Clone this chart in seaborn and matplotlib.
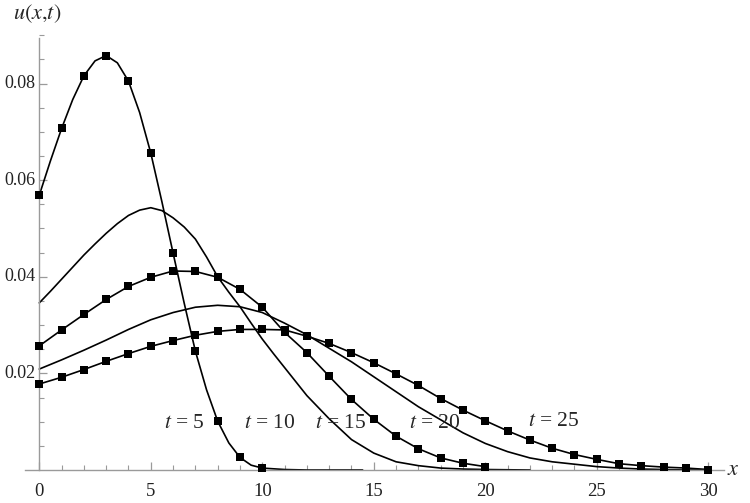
import matplotlib
matplotlib.use("Agg")
import matplotlib.pyplot as plt
import numpy as np
import pandas as pd
import seaborn as sns

# numerical solution (square markers), read at integer x
x_t5 = list(range(0, 11))
u_t5 = [0.0569, 0.0707, 0.0816, 0.0858, 0.0805, 0.0656, 0.0449, 0.0246, 0.0101, 0.0026, 0.0004]

x_t15 = list(range(0, 21))
u_t15 = [0.0257, 0.0290, 0.0322, 0.0353, 0.0380, 0.0399, 0.0412, 0.0411, 0.0399, 0.0374,
         0.0337, 0.0285, 0.0243, 0.0194, 0.0146, 0.0105, 0.0070, 0.0044, 0.0025, 0.0014, 0.0007]

x_t25 = list(range(0, 31))
u_t25 = [0.0178, 0.0192, 0.0208, 0.0225, 0.0241, 0.0256, 0.0268, 0.0279, 0.0287, 0.0291,
         0.0291, 0.0290, 0.0277, 0.0262, 0.0243, 0.0222, 0.0199, 0.0175, 0.0148, 0.0124,
         0.0102, 0.0081, 0.0062, 0.0045, 0.0032, 0.0022, 0.0013, 0.0009, 0.0006, 0.0004, 0.0001]

# exact solution curves (solid lines)
xl_t5 = [0, 0.5, 1, 1.5, 2, 2.5, 3, 3.5, 4, 4.5, 5, 5.5, 6, 6.5, 7, 7.5, 8, 8.5, 9, 9.5, 10, 11, 12, 14.5]
ul_t5 = [0.0569, 0.0640, 0.0707, 0.0767, 0.0816, 0.0847, 0.0858, 0.0843, 0.0805, 0.0740, 0.0656,
         0.0555, 0.0449, 0.0345, 0.0246, 0.0166, 0.0101, 0.0056, 0.0026, 0.0010, 0.0004, 0.0001, 0.0, 0.0]

xl_t10 = [0, 0.5, 1, 1.5, 2, 2.5, 3, 3.5, 4, 4.5, 5, 5.5, 6, 6.5, 7, 7.5, 8, 8.5, 9, 9.5,
          10, 10.5, 11, 12, 13, 14, 15, 16, 17, 18, 19, 20, 22]
ul_t10 = [0.0346, 0.0370, 0.0395, 0.0420, 0.0445, 0.0468, 0.0490, 0.0510, 0.0527, 0.0538,
          0.0543, 0.0537, 0.0522, 0.0503, 0.0478, 0.0441, 0.0400, 0.0368, 0.0338, 0.0304,
          0.0271, 0.0241, 0.0212, 0.0154, 0.0106, 0.0063, 0.0035, 0.0017, 0.0009, 0.0004,
          0.0002, 0.0001, 0.0]

xl_t15 = x_t15
ul_t15 = u_t15

xl_t20 = list(range(0, 31))
ul_t20 = [0.0209, 0.0228, 0.0248, 0.0269, 0.0291, 0.0311, 0.0326, 0.0337, 0.0341, 0.0338,
          0.0326, 0.0304, 0.0280, 0.0252, 0.0224, 0.0193, 0.0162, 0.0131, 0.0104, 0.0077,
          0.0055, 0.0038, 0.0025, 0.0017, 0.0012, 0.0007, 0.0004, 0.0002, 0.0001, 0.0, 0.0]

xl_t25 = x_t25
ul_t25 = u_t25

label_text = ["5", "10", "15", "20", "25"]
label_x = [6.49, 10.33, 13.53, 17.74, 23.05]
label_y = [0.0097, 0.0097, 0.0097, 0.0097, 0.0100]

lines = pd.concat([
    pd.DataFrame({"x": xl_t5, "u": ul_t5, "t": "5"}),
    pd.DataFrame({"x": xl_t10, "u": ul_t10, "t": "10"}),
    pd.DataFrame({"x": xl_t15, "u": ul_t15, "t": "15"}),
    pd.DataFrame({"x": xl_t20, "u": ul_t20, "t": "20"}),
    pd.DataFrame({"x": xl_t25, "u": ul_t25, "t": "25"}),
])
points = pd.concat([
    pd.DataFrame({"x": x_t5, "u": u_t5, "t": "5"}),
    pd.DataFrame({"x": x_t15, "u": u_t15, "t": "15"}),
    pd.DataFrame({"x": x_t25, "u": u_t25, "t": "25"}),
])

sns.set_theme(style="white")
plt.rcParams["font.family"] = ["Liberation Serif", "DejaVu Serif"]
plt.rcParams["mathtext.fontset"] = "stix"

fig = plt.figure(figsize=(7.5, 5.03), dpi=100)
ax = fig.add_axes([0, 0, 1, 1])

sns.lineplot(data=lines, x="x", y="u", units="t", estimator=None, sort=False,
             color="black", linewidth=1.2, ax=ax, legend=False)
sns.scatterplot(data=points, x="x", y="u", marker="s", color="black", s=38,
                edgecolor="black", linewidth=0, ax=ax, legend=False, zorder=3)

for txt, lx, ly in zip(label_text, label_x, label_y):
    ax.text(lx, ly, "$t$ = " + txt, fontsize=15.5, ha="center", va="center")

ax.set_xlim(-1.762, 31.87)
ax.set_ylim(-0.00683, 0.0973)

axis_col = "#9a9a9a"
for side in ["top", "right"]:
    ax.spines[side].set_visible(False)
ax.spines["left"].set_position(("data", 0))
ax.spines["bottom"].set_position(("data", 0))
ax.spines["left"].set_bounds(0, 0.0895)
ax.spines["bottom"].set_bounds(-0.64, 30.7)
ax.spines["left"].set_color(axis_col)
ax.spines["bottom"].set_color(axis_col)
ax.spines["left"].set_linewidth(1.0)
ax.spines["bottom"].set_linewidth(1.0)

ax.set_xticks([0, 5, 10, 15, 20, 25, 30])
ax.set_xticklabels(["0", "5", "10", "15", "20", "25", "30"])
ax.set_xticks(np.arange(0, 31, 1), minor=True)
ax.set_yticks([0.02, 0.04, 0.06, 0.08])
ax.set_yticklabels(["0.02", "0.04", "0.06", "0.08"])
ax.set_yticks(np.arange(0.005, 0.0901, 0.005), minor=True)

ax.tick_params(axis="x", which="major", direction="in", length=6, width=0.9,
               color=axis_col, labelsize=13.5, pad=9, bottom=True)
ax.tick_params(axis="x", which="minor", direction="in", length=3.5, width=0.8,
               color=axis_col, bottom=True)
ax.tick_params(axis="y", which="major", direction="in", length=6, width=0.9,
               color=axis_col, labelsize=13, pad=3, left=True)
ax.tick_params(axis="y", which="minor", direction="in", length=3.5, width=0.8,
               color=axis_col, left=True)
for lab in ax.get_xticklabels() + ax.get_yticklabels():
    lab.set_color("#222222")
for lab in ax.get_yticklabels():
    lab.set_verticalalignment("center")

ax.set_xlabel("")
ax.set_ylabel("")
ax.text(-0.08, 0.0945, r"$u(x{,}t)$", fontsize=16, ha="center", va="center")
ax.text(31.1, 0.0, r"$x$", fontsize=16, ha="center", va="center")

fig.savefig("out.png", dpi=100)
